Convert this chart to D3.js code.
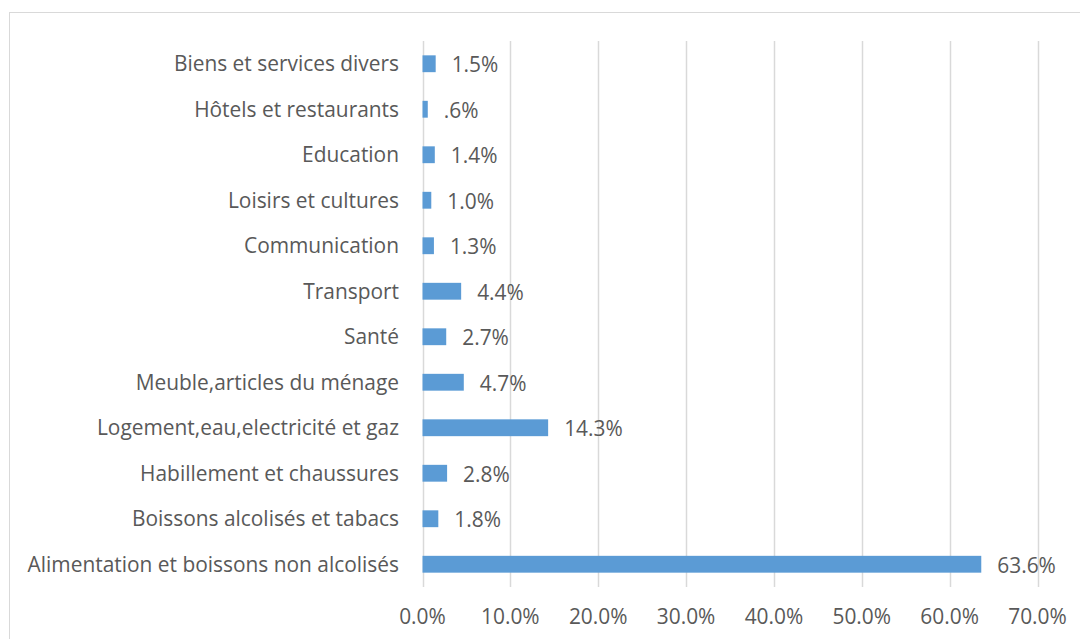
<!DOCTYPE html>
<html lang="fr">
<head>
    <meta charset="UTF-8">
    <title>Chart</title>
    <script src="https://cdn.jsdelivr.net/npm/d3@7"></script>
    <style>
        body{
            margin:0;
            background:#fff;
        }
        svg{
            position:absolute;
            left:0px;
            top:0px;
        }
        text{
            font-family: "Open Sans", Lato, sans-serif;
            fill:#595959;
        }
    </style>
</head>
<body>
    <svg id="chart" width="1080" height="639"></svg>
    <script>
        // categories, bottom to top in the picture
        var categories = [
            "Alimentation et boissons non alcolisés",
            "Boissons alcolisés et tabacs",
            "Habillement et chaussures",
            "Logement,eau,electricité et gaz",
            "Meuble,articles du ménage",
            "Santé",
            "Transport",
            "Communication",
            "Loisirs et cultures",
            "Education",
            "Hôtels et restaurants",
            "Biens et services divers"
        ]
        var values = [0.636, 0.018, 0.028, 0.143, 0.047, 0.027, 0.044, 0.013, 0.010, 0.014, 0.006, 0.015]
        var ticks = [0, 0.1, 0.2, 0.3, 0.4, 0.5, 0.6, 0.7]

        var fontSize = "20.9px"
        var svg = d3.select("#chart")

        // chart frame
        svg.append("rect")
            .attr("x", 9.5).attr("y", 12.5)
            .attr("width", 1100).attr("height", 700)
            .attr("fill", "none")
            .attr("stroke", "#d9d9d9")
            .attr("stroke-width", 1)

        var x = d3.scaleLinear().domain([0, 0.7]).range([422.5, 1037.5])
        var y = d3.scaleBand()
            .domain(categories.slice().reverse())
            .range([41, 587])
            .paddingInner(0.63)
            .paddingOuter(0.315)

        //gridlines
        svg.append("g")
            .selectAll("line")
            .data(ticks)
            .join("line")
            .attr("x1", function(d){ return Math.round(x(d)) + 0.5 })
            .attr("x2", function(d){ return Math.round(x(d)) + 0.5 })
            .attr("y1", 41)
            .attr("y2", 587)
            .attr("stroke", "#d9d9d9")
            .attr("stroke-width", 1.5)

        // tick labels
        var tickFmt = d3.format(".1%")
        svg.append("g")
            .selectAll("text")
            .data(ticks)
            .join("text")
            .attr("x", function(d){ return x(d) })
            .attr("y", 624)
            .attr("text-anchor", "middle")
            .style("font-size", fontSize)
            .text(function(d){ return tickFmt(d) })

        // bars
        svg.append("g")
            .selectAll("rect")
            .data(values)
            .join("rect")
            .attr("x", x(0))
            .attr("y", function(d, i){ return y(categories[i]) })
            .attr("width", function(d){ return x(d) - x(0) })
            .attr("height", y.bandwidth())
            .attr("fill", "#5b9bd5")

        // category labels
        svg.append("g")
            .selectAll("text")
            .data(categories)
            .join("text")
            .attr("x", 399)
            .attr("y", function(d){ return y(d) + y.bandwidth() / 2 })
            .attr("dy", "0.35em")
            .attr("text-anchor", "end")
            .style("font-size", fontSize)
            .text(function(d){ return d })

        // value labels (excel style: .6% without leading zero)
        var valFmt = function(v){ return tickFmt(v).replace(/^0\./, ".") }
        svg.append("g")
            .selectAll("text")
            .data(values)
            .join("text")
            .attr("x", function(d){ return x(d) + 16 })
            .attr("y", function(d, i){ return y(categories[i]) + y.bandwidth() / 2 + 1 })
            .attr("dy", "0.35em")
            .style("font-size", fontSize)
            .text(function(d){ return valFmt(d) })
    </script>
</body>
</html>
